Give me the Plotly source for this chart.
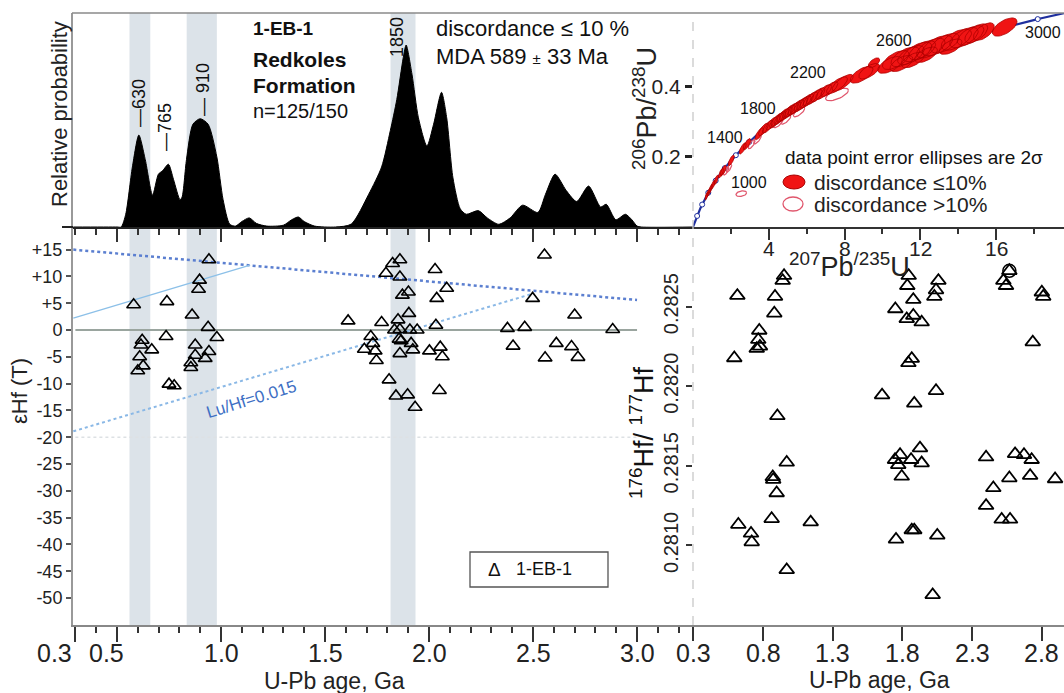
import numpy as np
import plotly.graph_objects as go

W, H = 1064, 693
FONT = "Liberation Sans, Arial, sans-serif"


def PX(x):
    return x / W


def PY(y):
    return 1 - y / H

# ---------------- data ----------------
# Kernel density (relative probability) vs U-Pb age (Ga)
kde_age = [0.29, 0.50, 0.52, 0.542, 0.574, 0.605, 0.636, 0.671, 0.699, 0.72, 0.747, 0.772,
           0.803, 0.813, 0.834, 0.865, 0.90, 0.938, 0.98, 1.01, 1.042, 1.07, 1.10, 1.136,
           1.17, 1.22, 1.30, 1.34, 1.372, 1.40, 1.45, 1.55, 1.626, 1.71, 1.772, 1.814,
           1.845, 1.876, 1.89, 1.918, 1.949, 1.99, 2.022, 2.06, 2.085, 2.115, 2.15, 2.179,
           2.237, 2.28, 2.335, 2.39, 2.45, 2.523, 2.56, 2.606, 2.66, 2.71, 2.767, 2.825,
           2.852, 2.898, 2.944, 2.975, 3.0, 3.02, 3.27]
kde_rel = [0, 0, 0.0, 0.07, 0.33, 0.505, 0.37, 0.175, 0.29, 0.31, 0.345, 0.26,
           0.15, 0.165, 0.37, 0.565, 0.595, 0.565, 0.385, 0.15, 0.015, 0.005, 0.03, 0.05,
           0.02, 0.005, 0.01, 0.04, 0.055, 0.03, 0.005, 0.0, 0.016, 0.18, 0.33, 0.53,
           0.70, 0.93, 1.0, 0.84, 0.60, 0.445, 0.565, 0.74, 0.60, 0.27, 0.10, 0.07,
           0.09, 0.05, 0.015, 0.05, 0.12, 0.08, 0.18, 0.29, 0.20, 0.14, 0.225, 0.11,
           0.125, 0.04, 0.07, 0.04, 0.005, 0, 0]

peak_labels = ["—630", "—765", "— 910", "1850"]

# highlighted age bands (Ga)
band_lo = [0.56, 0.835, 1.815]
band_hi = [0.66, 0.98, 1.935]

# epsilon Hf(T) vs age
eps_age = [0.580, 0.621, 0.615, 0.667, 0.609, 0.626, 0.600, 0.740, 0.736, 0.750, 0.775,
           0.861, 0.942, 0.897, 0.892, 0.938, 0.980, 0.876, 0.876, 0.942, 0.924, 0.855,
           0.855, 1.611, 1.772, 1.720, 1.730, 1.689, 1.741, 1.747, 1.793, 1.825, 1.860,
           1.860, 1.872, 1.901, 1.903, 1.851, 1.834, 1.860, 1.908, 1.943, 1.856, 1.866,
           1.914, 1.922, 1.860, 1.808, 1.841, 1.897, 1.933, 2.029, 2.085, 2.037, 2.033,
           2.002, 2.054, 2.064, 2.050, 2.555, 2.498, 2.377, 2.460, 2.404, 2.558, 2.612,
           2.685, 2.716, 2.700, 2.883]
eps_val = [4.7, -1.9, -2.8, -3.7, -5.0, -6.7, -7.6, 5.3, -1.2, -10.1, -10.4,
           2.8, 13.1, 9.3, 7.6, 0.5, -1.4, -2.8, -4.7, -4.0, -5.3, -6.1,
           -7.0, 1.7, 1.4, -1.2, -2.5, -3.6, -3.9, -5.7, 10.6, 12.4, 13.1,
           9.9, 6.5, 7.1, 3.1, 1.9, 0.0, 0.1, 0.0, 0.0, -1.7, -2.0,
           -2.5, -3.7, -4.4, -9.3, -12.3, -12.1, -14.4, 11.3, 7.8, 5.9, 0.9,
           -3.9, -3.2, -5.0, -11.3, 14.0, 5.9, 0.3, 0.5, -3.0, -5.2, -2.5,
           -3.1, -5.1, 2.8, 0.1]

# reference lines in the epsilon plot
dm_age, dm_eps = [0.29, 3.0], [15.0, 5.6]
crust1_age, crust1_eps = [0.29, 1.14], [2.2, 12.1]
luhf_age, luhf_eps = [0.29, 2.50], [-18.9, 6.8]
chur_age, chur_eps = [0.30, 3.0], [0.0, 0.0]
ref20_age, ref20_eps = [0.30, 3.0], [-20.0, -20.0]

eps_ticks = [15, 10, 5, 0, -5, -10, -15, -20, -25, -30, -35, -40, -45, -50]
eps_ticktext = ["+15", "+10", "+5", "0", "-5", "-10", "-15", "-20", "-25", "-30",
                "-35", "-40", "-45", "-50"]
age_ticks_left = [0.3, 0.5, 1.0, 1.5, 2.0, 2.5, 3.0]
age_ticks_right = [0.3, 0.8, 1.3, 1.8, 2.3, 2.8]
conc_x_ticks = [4, 8, 12, 16]
conc_x_minor = [2, 6, 10, 14, 18]

# 176Hf/177Hf vs age
hf_age = [0.951, 0.941, 0.616, 0.886, 0.881, 0.773, 0.766, 0.755, 0.778, 0.594,
          1.845, 1.835, 1.878, 1.749, 1.878, 1.831, 1.938, 2.058, 2.041, 2.029,
          2.567, 2.524, 2.543, 2.800, 2.810, 2.735, 1.867, 1.843, 1.654, 1.885,
          2.041, 0.903, 0.970, 0.870, 0.873, 1.747, 1.783, 1.770, 1.862, 1.926,
          1.938, 1.795, 2.400, 2.608, 2.672, 2.727, 0.898, 0.862, 0.623, 0.714,
          0.719, 1.142, 0.970, 1.754, 1.867, 1.885, 2.050, 2.017, 2.567, 2.716,
          2.895, 2.452, 2.400, 2.512, 2.572]
hf_ratio = [0.282694, 0.282663, 0.282569, 0.282563, 0.282458, 0.282350, 0.282292, 0.282236,
            0.282250, 0.282177, 0.282694, 0.282631, 0.282544, 0.282485, 0.282444, 0.282423,
            0.282402, 0.282663, 0.282604, 0.282563, 0.282725, 0.282663, 0.282631, 0.282590,
            0.282563, 0.282277, 0.282173, 0.282146, 0.281944, 0.281892, 0.281971, 0.281813,
            0.281521, 0.281430, 0.281413, 0.281538, 0.281569, 0.281506, 0.281538, 0.281611,
            0.281517, 0.281433, 0.281554, 0.281575, 0.281569, 0.281538, 0.281329, 0.281167,
            0.281131, 0.281075, 0.281021, 0.281146, 0.280846, 0.281038, 0.281096, 0.281096,
            0.281063, 0.280689, 0.281423, 0.281438, 0.281417, 0.281361, 0.281250, 0.281163,
            0.281163]
hf_circle_age, hf_circle_ratio = [2.567], [0.282725]
hf_ticks = [0.2810, 0.2815, 0.2820, 0.2825]

# concordia: U-Pb ratios of zircon analyses (2 sigma error ellipses)
conc_x = [0.72, 0.83, 0.93, 1.06, 1.22, 1.48, 1.60, 2.02, 2.62, 2.85, 3.5, 3.72, 3.95, 4.15,
          4.32, 4.45, 4.6, 4.75, 4.9, 5.05, 5.2, 5.35, 5.5, 5.7, 5.85, 6.0, 6.2, 6.4, 6.6,
          6.9, 7.2, 7.6, 7.9, 8.9, 9.3, 9.55, 10.4, 10.7, 11.0, 11.2, 11.5, 11.6, 11.85,
          12.1, 12.3, 12.55, 12.9, 13.3, 13.6, 13.9, 14.3, 14.65, 14.95, 15.35, 16.45]
conc_y = [0.089, 0.099, 0.109, 0.121, 0.134, 0.154, 0.161, 0.190, 0.224, 0.236, 0.266, 0.278,
          0.286, 0.295, 0.300, 0.306, 0.311, 0.318, 0.322, 0.329, 0.333, 0.338, 0.343, 0.349,
          0.354, 0.359, 0.365, 0.371, 0.377, 0.385, 0.393, 0.404, 0.411, 0.434, 0.444, 0.468,
          0.462, 0.476, 0.466, 0.485, 0.490, 0.476, 0.499, 0.504, 0.491, 0.510, 0.517, 0.524,
          0.514, 0.534, 0.540, 0.546, 0.552, 0.557, 0.570]
conc_sx = [0.09, 0.10, 0.10, 0.11, 0.12, 0.13, 0.15, 0.16, 0.18, 0.2, 0.22, 0.26, 0.28, 0.3,
           0.28, 0.32, 0.3, 0.32, 0.34, 0.32, 0.36, 0.34, 0.36, 0.36, 0.38, 0.36, 0.38, 0.42,
           0.36, 0.42, 0.45, 0.55, 0.55, 0.6, 0.55, 0.3, 0.65, 0.7, 0.6, 0.75, 0.7, 0.6, 0.75,
           0.7, 0.6, 0.75, 0.8, 0.75, 0.6, 0.8, 0.75, 0.7, 0.6, 0.55, 0.65]
conc_sy = [0.012, 0.012, 0.013, 0.013, 0.014, 0.014, 0.015, 0.015, 0.016, 0.016, 0.017, 0.018,
           0.018, 0.018, 0.018, 0.019, 0.018, 0.019, 0.019, 0.019, 0.020, 0.019, 0.020, 0.020,
           0.020, 0.020, 0.020, 0.021, 0.020, 0.021, 0.021, 0.024, 0.024, 0.024, 0.022, 0.014,
           0.024, 0.027, 0.023, 0.028, 0.027, 0.022, 0.028, 0.027, 0.022, 0.028, 0.029, 0.028,
           0.022, 0.030, 0.029, 0.028, 0.027, 0.025, 0.026]
conc_rho = [0.75] * 33 + [0.65, 0.65, 0.6] + [0.6] * 19

disc_x = [1.75, 1.9, 2.55, 3.1, 3.4, 4.5, 4.9, 5.6, 7.6]
disc_y = [0.160, 0.168, 0.095, 0.236, 0.250, 0.296, 0.306, 0.328, 0.378]
disc_sx = [0.14, 0.14, 0.28, 0.18, 0.2, 0.25, 0.26, 0.3, 0.6]
disc_sy = [0.012, 0.012, 0.008, 0.013, 0.013, 0.013, 0.013, 0.014, 0.018]
disc_rho = [0.75, 0.75, 0.3, 0.75, 0.75, 0.75, 0.75, 0.75, 0.65]

concordia_label_ages = ["1000", "1400", "1800", "2200", "2600", "3000"]
marker_ages = [0.2, 0.4, 0.6, 0.8, 1.0, 1.2, 1.4, 1.6, 1.8, 2.0, 2.2, 2.4, 2.6, 2.8, 3.0]

# decay constants (1/Ga)
L238, L235 = 0.155125, 0.98485


def ellipse_path(cx, cy, sx, sy, rho, n=40):
    th = np.linspace(0, 2 * np.pi, n)
    xs, ys = [], []
    for a, b, ex, ey, r in zip(cx, cy, sx, sy, rho):
        xs += list(a + ex * np.cos(th)) + [None]
        ys += list(b + ey * (r * np.cos(th) + np.sqrt(1 - r * r) * np.sin(th))) + [None]
    return xs, ys


fig = go.Figure()

# ---------------- KDE panel ----------------
fig.add_trace(go.Scatter(x=kde_age, y=kde_rel, mode="lines", fill="tozeroy",
                         fillcolor="black", line=dict(color="black", width=1, shape="spline", smoothing=0.7),
                         xaxis="x", yaxis="y", hoverinfo="skip"))

# ---------------- epsilon Hf panel ----------------
fig.add_trace(go.Scatter(x=ref20_age, y=ref20_eps, mode="lines",
                         line=dict(color="#dde1e4", width=1.5, dash="dot"), xaxis="x2", yaxis="y2"))
fig.add_trace(go.Scatter(x=chur_age, y=chur_eps, mode="lines",
                         line=dict(color="#9aa59f", width=2.2), xaxis="x2", yaxis="y2"))
fig.add_trace(go.Scatter(x=dm_age, y=dm_eps, mode="lines",
                         line=dict(color="#5b7fd0", width=2.5, dash="dot"), xaxis="x2", yaxis="y2"))
fig.add_trace(go.Scatter(x=crust1_age, y=crust1_eps, mode="lines",
                         line=dict(color="#8cc0e8", width=1.3), xaxis="x2", yaxis="y2"))
fig.add_trace(go.Scatter(x=luhf_age, y=luhf_eps, mode="lines",
                         line=dict(color="#8ab8e6", width=2, dash="dot"), xaxis="x2", yaxis="y2"))
fig.add_trace(go.Scatter(x=eps_age, y=eps_val, mode="markers",
                         marker=dict(symbol="triangle-up-open", size=12, color="black",
                                     line=dict(width=1.6, color="black")),
                         xaxis="x2", yaxis="y2"))

# ---------------- concordia panel ----------------
t = np.linspace(0.0, 3.2, 321)
fig.add_trace(go.Scatter(x=np.exp(L235 * t) - 1, y=np.exp(L238 * t) - 1, mode="lines",
                         line=dict(color="#1f2f9e", width=2.2), xaxis="x3", yaxis="y3"))
ma = np.array(marker_ages)
fig.add_trace(go.Scatter(x=np.exp(L235 * ma) - 1, y=np.exp(L238 * ma) - 1, mode="markers",
                         marker=dict(symbol="circle", size=5, color="white",
                                     line=dict(color="#1f2f9e", width=1)),
                         xaxis="x3", yaxis="y3"))
ex, ey = ellipse_path(disc_x, disc_y, disc_sx, disc_sy, disc_rho)
fig.add_trace(go.Scatter(x=ex, y=ey, mode="lines", line=dict(color="#e0566c", width=1.2),
                         xaxis="x3", yaxis="y3", hoverinfo="skip"))
ex, ey = ellipse_path(conc_x, conc_y, conc_sx, conc_sy, conc_rho)
fig.add_trace(go.Scatter(x=ex, y=ey, mode="lines", fill="toself", fillcolor="#f01414",
                         line=dict(color="#b00000", width=0.8),
                         xaxis="x3", yaxis="y3", hoverinfo="skip"))

# ---------------- 176Hf/177Hf panel ----------------
fig.add_trace(go.Scatter(x=hf_age, y=hf_ratio, mode="markers",
                         marker=dict(symbol="triangle-up-open", size=13, color="black",
                                     line=dict(width=1.8, color="black")),
                         xaxis="x4", yaxis="y4"))
fig.add_trace(go.Scatter(x=hf_circle_age, y=hf_circle_ratio, mode="markers",
                         marker=dict(symbol="circle-open", size=13, color="black",
                                     line=dict(width=1.5, color="black")),
                         xaxis="x4", yaxis="y4"))

# ---------------- axes ----------------
LEFT = [PX(73), PX(693)]
RIGHT = [PX(693), 1.0]
TOP = [PY(227), PY(13)]
BOT = [PY(625), PY(227)]
AGE_RANGE = [0.2885, 3.269]

axis_font = dict(family=FONT, color="#222")

layout = dict(
    width=W, height=H, autosize=False, margin=dict(l=0, r=0, t=0, b=0, pad=0, autoexpand=False),
    paper_bgcolor="white", plot_bgcolor="rgba(0,0,0,0)", showlegend=False,
    xaxis=dict(domain=LEFT, range=AGE_RANGE, anchor="y", showgrid=False, zeroline=False,
               automargin=False,
               showline=True, linecolor="#222", linewidth=2, ticks="outside",
               tickvals=[0.5, 1.0, 1.5, 2.0, 2.5, 3.0], ticklen=13, tickwidth=2, tickcolor="#333",
               showticklabels=False,
               minor=dict(ticks="outside", tickmode="linear", tick0=0.0, dtick=0.1, ticklen=6,
                          tickwidth=1.5, tickcolor="#333", showgrid=False)),
    yaxis=dict(domain=TOP, range=[0, 1.176], anchor="x", showgrid=False, zeroline=False,
               automargin=False,
               showline=True, linecolor="#999", linewidth=1.5, showticklabels=False, ticks=""),
    xaxis2=dict(domain=LEFT, range=AGE_RANGE, anchor="y2", showgrid=False, zeroline=False,
                automargin=False,
                showline=True, linecolor="#888", linewidth=2, ticks="outside",
                tickvals=age_ticks_left, ticklen=15, tickwidth=2, tickcolor="#333",
                showticklabels=False,
                minor=dict(ticks="outside", tickmode="linear", tick0=0.0, dtick=0.1, ticklen=6,
                           tickwidth=1.5, tickcolor="#333", showgrid=False)),
    yaxis2=dict(domain=BOT, range=[-55.04, 19.22], anchor="x2", showgrid=False, zeroline=False,
                automargin=False,
                showline=True, linecolor="#999", linewidth=2, ticks="outside", ticklen=5,
                tickwidth=1.5, tickcolor="#555", tickvals=eps_ticks, ticktext=eps_ticktext,
                tickfont=dict(size=18, **axis_font)),
    xaxis3=dict(domain=RIGHT, range=[0, 19.58], anchor="y3", showgrid=False, zeroline=False,
                automargin=False,
                showline=True, linecolor="#333", linewidth=2, ticks="outside",
                tickvals=conc_x_ticks, ticklen=11, tickwidth=2, tickcolor="#333",
                showticklabels=False,
                minor=dict(ticks="outside", tickvals=conc_x_minor, ticklen=5,
                           tickwidth=2, tickcolor="#333", showgrid=False)),
    yaxis3=dict(domain=TOP, range=[0, 0.61], anchor="x3", showgrid=False, zeroline=False,
                automargin=False,
                showline=False, ticks="outside", tickvals=[0.2, 0.4], ticktext=["0.2", "0.4"],
                ticklen=7, tickwidth=2.5, tickcolor="#222",
                tickfont=dict(size=21, **axis_font)),
    xaxis4=dict(domain=RIGHT, range=[0.2978, 2.959], anchor="y4", showgrid=False, zeroline=False,
                automargin=False,
                showline=True, linecolor="#888", linewidth=2, ticks="outside",
                tickvals=age_ticks_right, ticklen=14, tickwidth=2, tickcolor="#333",
                showticklabels=False),
    yaxis4=dict(domain=BOT, range=[0.2805, 0.2830], anchor="x4", showgrid=False, zeroline=False,
                automargin=False,
                showline=False, ticks="outside", tickvals=hf_ticks,
                ticktext=[f"{v:.4f}" for v in hf_ticks], tickangle=-90,
                ticklen=6, tickwidth=2, tickcolor="#333",
                tickfont=dict(size=20, **axis_font)),
)
fig.update_layout(**layout)

# ---------------- shapes ----------------
shapes = []
for lo, hi in zip(band_lo, band_hi):
    shapes.append(dict(type="rect", xref="x2", yref="paper", x0=lo, x1=hi,
                       y0=PY(625), y1=PY(13), fillcolor="#dce3e9", line=dict(width=0),
                       layer="below"))
shapes.append(dict(type="line", xref="paper", yref="paper", x0=PX(72), x1=1.0,
                   y0=PY(13), y1=PY(13), line=dict(color="#8a8a8a", width=1.5)))
shapes.append(dict(type="line", xref="paper", yref="paper", x0=PX(693), x1=PX(693),
                   y0=PY(625), y1=PY(13), line=dict(color="#c8c8c8", width=1.3, dash="dash")))
shapes.append(dict(type="line", xref="paper", yref="paper", x0=PX(62), x1=PX(73),
                   y0=PY(227), y1=PY(227), line=dict(color="#222", width=2)))
# legend box in epsilon plot
shapes.append(dict(type="rect", xref="paper", yref="paper", x0=PX(470), x1=PX(608),
                   y0=PY(587), y1=PY(552), line=dict(color="#555", width=1.3),
                   fillcolor="white"))
# concordia legend ellipses
shapes.append(dict(type="circle", xref="paper", yref="paper", x0=PX(783), x1=PX(805),
                   y0=PY(189), y1=PY(175), fillcolor="#f01414", line=dict(color="#a80000", width=1)))
shapes.append(dict(type="circle", xref="paper", yref="paper", x0=PX(783), x1=PX(803),
                   y0=PY(211), y1=PY(197), fillcolor="rgba(0,0,0,0)",
                   line=dict(color="#e0566c", width=1.3)))
fig.update_layout(shapes=shapes)

# ---------------- annotations ----------------
ann = []


def text(x, y, s, size, xanchor="center", yanchor="middle", angle=0, color="#111",
         bold=False, xref="paper", yref="paper", xshift=0):
    ann.append(dict(x=x, y=y, xref=xref, yref=yref, text=(f"<b>{s}</b>" if bold else s),
                    showarrow=False, xanchor=xanchor, yanchor=yanchor, textangle=angle,
                    xshift=xshift,
                    font=dict(family=FONT, size=size, color=color)))


# KDE peak labels
for (cx, cy), s in zip([(139, 103), (165, 127), (203, 90), (397, 37)], peak_labels):
    text(PX(cx), PY(cy), s, 18, angle=-90)
text(PX(251), PY(28), "1-EB-1", 19, xanchor="left", bold=True)
text(PX(251), PY(60), "Redkoles", 21, xanchor="left", bold=True)
text(PX(251), PY(86), "Formation", 21, xanchor="left", bold=True)
text(PX(251), PY(111), "n=125/150", 20, xanchor="left")
text(PX(434), PY(28), "discordance ≤ 10 %", 22, xanchor="left")
text(PX(434), PY(57), "MDA 589 <span style='font-size:15px'>±</span> 33 Ma", 22, xanchor="left")
text(PX(60), PY(114), "Relative probability", 22, angle=-90, color="#222")

# epsilon plot texts
text(PX(20), PY(391), "εHf (T)", 22, angle=-90, color="#222")
text(PX(251), PY(400), "Lu/Hf=0.015", 17, angle=-17, color="#3e6fc4")
text(PX(494), PY(569), "Δ", 19)
text(PX(514), PY(569), "1-EB-1", 18, xanchor="left")
shifts = [-21, -11, 0, 0, 0, 0, 0]
for v, sh in zip(age_ticks_left, shifts):
    text(v, PY(653), f"{v:.1f}", 25, xref="x2", xshift=sh, color="#222")
for v in age_ticks_right:
    text(v, PY(653), f"{v:.1f}", 25, xref="x4", color="#222")
text(PX(334), PY(681), "U-Pb age, Ga", 23, color="#222")
text(PX(879), PY(680), "U-Pb age, Ga", 23, color="#222")

# concordia texts
for v in conc_x_ticks:
    text(v, PY(248), str(v), 21, xref="x3", color="#222")
text(PX(645), PY(109), "<sup>206</sup>Pb/<sup>238</sup>U", 27, angle=-90, color="#222")
text(PX(849), PY(265), "<sup>207</sup>Pb<sup>/235</sup>U", 27, color="#222")
for (cx, cy), s in zip([(749, 182), (725, 137), (758, 108), (808, 72), (894, 40), (1043, 32)],
                       concordia_label_ages):
    text(PX(cx), PY(cy), s, 16)
text(PX(783), PY(158), "data point error ellipses are 2σ", 19, xanchor="left")
text(PX(812), PY(182), "discordance ≤10%", 21, xanchor="left", color="#222")
text(PX(812), PY(205), "discordance >10%", 21, xanchor="left", color="#222")

# Hf ratio title
text(PX(642), PY(433), "<sup>176</sup>Hf/ <sup>177</sup>Hf", 27, angle=-90, color="#111")

fig.update_layout(annotations=ann)

fig.write_html("out.html")
